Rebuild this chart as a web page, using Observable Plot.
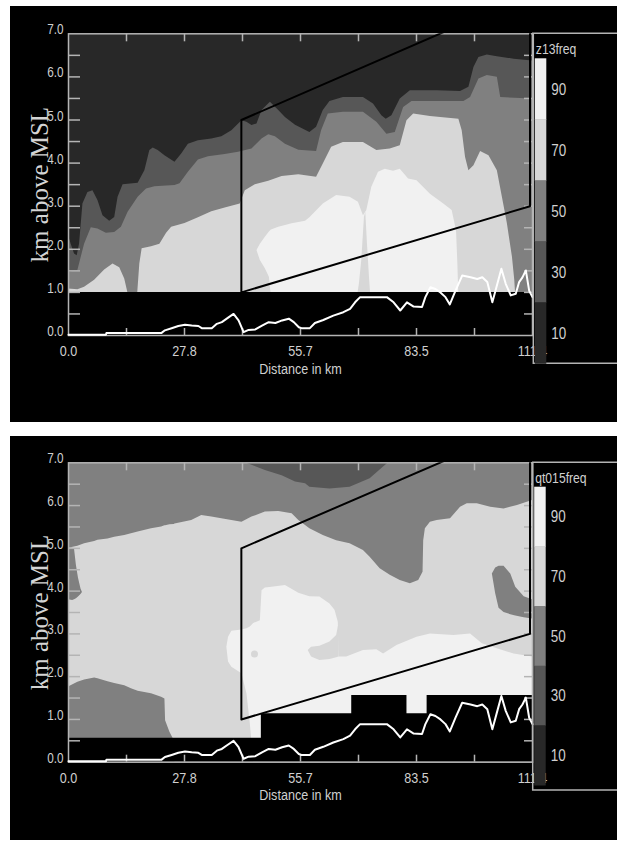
<!DOCTYPE html>
<html><head><meta charset="utf-8">
<script src="https://cdn.jsdelivr.net/npm/d3@7"></script>
<script src="https://cdn.jsdelivr.net/npm/@observablehq/plot@0.6"></script>
<style>
body{margin:0;background:#fff;width:617px;height:844px;position:relative;overflow:hidden}
#p1{position:absolute;left:10px;top:6px}
#p2{position:absolute;left:10px;top:436px}
svg{display:block}
</style></head><body><div id="p1"></div><div id="p2"></div>
<script>
// ---------- axes ----------
const xDomain = [0, 111.4];
const yDomain = [0, 7];
const xTicks = [13.925, 27.85, 41.775, 55.7, 69.625, 83.55, 97.475];
const xLabelValues = [0, 27.85, 55.7, 83.55, 111.4];
const xLabels = ["0.0", "27.8", "55.7", "83.5", "111.4"];
const yTicks = [0.5, 1, 1.5, 2, 2.5, 3, 3.5, 4, 4.5, 5, 5.5, 6, 6.5];
const yLabelValues = [0, 1, 2, 3, 4, 5, 6, 7];
const yLabels = ["0.0", "1.0", "2.0", "3.0", "4.0", "5.0", "6.0", "7.0"];
const xTitle = "Distance in km";
const yTitle = "km above MSL";

// ---------- legend ----------
const levels = [90, 70, 50, 30, 10];
const levelColors = ["#f1f1f1", "#d7d7d7", "#808080", "#575757", "#282828"];
const [c90, c70, c50, c30, c10] = levelColors;

// ---------- terrain (km, km) ----------
const terrain = [[0,0.02],[9.0,0.02],[9.1,0.06],[22.35,0.06],[23.15,0.12],[24.76,0.17],[26.36,0.22],[27.97,0.25],[29.58,0.23],[31.19,0.22],[31.99,0.17],[34.4,0.17],[35.61,0.27],[36.81,0.31],[38.42,0.42],[39.63,0.5],[40.83,0.35],[42.04,0.08],[43.24,0.13],[44.85,0.14],[46.46,0.23],[48.07,0.31],[49.67,0.29],[51.28,0.35],[52.89,0.39],[54.09,0.31],[55.3,0.19],[55.94,0.17],[57.95,0.17],[59.16,0.29],[61.17,0.36],[63.58,0.46],[65.99,0.54],[67.6,0.62],[68.8,0.77],[70.01,0.89],[73.22,0.89],[76.44,0.89],[78.05,0.77],[79.65,0.58],[81.26,0.77],[82.87,0.67],[84.88,0.66],[85.68,0.89],[86.89,1.12],[88.09,1.08],[89.3,1.0],[90.51,0.89],[91.55,0.72],[92.92,1.04],[94.52,1.39],[96.53,1.35],[98.14,1.31],[99.35,1.35],[100.55,1.24],[101.76,0.77],[102.96,1.2],[103.93,1.55],[104.97,1.2],[106.18,0.93],[107.38,0.97],[108.19,1.24],[108.99,1.35],[109.8,1.51],[110.6,1.04],[111.4,0.89]];

// ---------- analysis box ----------
const box = [[41.5,1.0],[41.5,5.0],[110.8,7.91],[110.8,3.0],[41.5,1.0]];

// ---------- top panel: z13freq band tops (x km, height km) ----------
const top20 = [[0,2.32],[0.64,2.12],[1.45,1.89],[2.09,1.85],[2.65,2.12],[3.46,3.05],[4.66,3.32],[5.87,3.36],[7.07,3.13],[8.28,2.78],[9.89,2.65],[11.09,2.74],[11.9,3.21],[13.1,3.5],[16.72,3.53],[18.33,3.82],[19.53,4.29],[20.34,4.35],[21.54,4.29],[23.15,4.17],[25.56,4.02],[27.17,4.21],[28.78,4.44],[31.19,4.52],[34.4,4.56],[36.81,4.61],[39.22,4.75],[41.64,4.98],[42.84,4.95],[44.05,4.87],[45.25,4.91],[46.46,5.22],[48.47,5.41],[50.48,5.22],[52.08,5.06],[54.5,4.88],[57.95,4.71],[59.56,4.83],[61.17,5.22],[62.77,5.43],[65.99,5.52],[70.81,5.52],[73.22,5.37],[75.23,5.1],[76.28,5.02],[77.64,5.1],[79.65,5.49],[82.07,5.68],[88.5,5.68],[94.12,5.66],[96.13,5.76],[97.34,6.22],[98.54,6.45],[100.55,6.51],[102.96,6.47],[106.98,6.41],[111.4,6.37]];
const top40 = [[0,1.47],[2.25,1.51],[3.86,2.12],[5.47,2.5],[7.07,2.47],[9.08,2.37],[11.09,2.39],[12.7,2.51],[14.31,2.86],[16.72,3.21],[18.73,3.4],[20.74,3.45],[25.56,3.48],[26.77,3.52],[28.78,3.79],[31.19,4.07],[33.6,4.15],[37.62,4.2],[40.83,4.25],[44.05,4.33],[46.46,4.56],[48.07,4.66],[49.67,4.61],[52.08,4.44],[55.3,4.3],[59.56,4.27],[60.76,4.75],[62.37,5.14],[65.99,5.18],[70.81,5.18],[74.03,4.95],[76.44,4.67],[78.45,4.71],[80.46,5.29],[82.47,5.43],[94.93,5.43],[96.53,5.52],[98.54,5.95],[100.55,6.03],[102.96,5.99],[103.77,5.52],[111.4,5.49]];
const top60 = [[0,1.08],[2.25,1.06],[3.86,1.12],[6.27,1.28],[8.68,1.52],[10.69,1.66],[12.3,1.57],[13.5,1.31],[14.15,1.04],[14.47,0.9],[16.56,0.9],[17.12,1.66],[17.68,2.01],[19.93,2.06],[21.94,2.12],[23.55,2.37],[24.76,2.51],[27.97,2.6],[31.19,2.73],[34.4,2.87],[37.62,2.96],[41.23,3.05],[42.44,3.36],[44.85,3.5],[48.07,3.58],[51.28,3.69],[55.3,3.73],[59.56,3.67],[61.17,3.98],[63.18,4.37],[65.99,4.48],[70.81,4.48],[74.03,4.29],[77.24,4.33],[79.65,4.4],[81.26,4.98],[82.87,5.14],[86.89,5.08],[93.72,5.02],[94.52,4.75],[95.33,4.13],[96.13,3.82],[97.34,3.94],[98.94,4.27],[100.95,4.17],[102.96,3.82],[104.17,3.21],[105.37,2.59],[106.58,1.82],[107.14,1.28],[107.38,0.9],[111.4,0.9]];
// lightest band: [x, bottom, top]
const top80 = [[45.25,1.97,1.97],[46.06,1.74,2.12],[47.26,1.55,2.28],[48.23,1.35,2.4],[48.71,0.9,2.45],[50.48,0.9,2.51],[53.69,0.9,2.59],[56.91,0.9,2.65],[57.95,0.9,2.73],[61.17,0.9,3.05],[64.38,0.9,3.25],[67.6,0.9,3.21],[69.61,0.9,3.09],[70.81,0.9,2.78],[71.62,0.9,2.9],[72.82,0.9,3.44],[74.43,0.9,3.79],[76.04,0.9,3.86],[78.05,0.9,3.81],[79.65,0.9,3.86],[81.66,0.9,3.63],[83.67,0.9,3.59],[86.89,0.9,3.28],[90.1,0.9,3.05],[92.11,0.9,2.9],[93.16,0.9,2.43],[93.48,0.9,1.66],[93.72,0.9,0.9]];
const topCrack = [[69.37,0.9,0.9],[69.85,0.9,1.2],[70.41,0.9,1.74],[71.05,0.9,2.74],[71.37,0.9,2.86],[71.78,0.9,2.12],[72.26,0.9,1.35],[72.58,0.9,0.9]];
const topMask = [[0,1.0],[111.4,1.0]];

// ---------- bottom panel: qt015freq ----------
const bot30 = [[42.44,7.0],[44.05,6.94],[47.26,6.82],[51.28,6.7],[54.5,6.55],[56.91,6.51],[57.95,6.43],[62.77,6.39],[67.6,6.43],[72.42,6.63],[75.64,6.9],[76.84,7.0]];
const bot70 = [[0,1.76,5.0],[2.25,1.87,5.05],[3.86,1.92,5.11],[6.27,1.97,5.16],[7.07,1.95,5.19],[9.48,1.88,5.22],[11.09,1.84,5.26],[13.5,1.79,5.3],[15.11,1.72,5.34],[16.72,1.66,5.38],[19.93,1.6,5.46],[22.35,1.52,5.5],[23.15,1.48,5.53],[23.31,0.97,5.53],[24.35,0.7,5.55],[25.4,0.5,5.56],[25.56,0,5.57],[29.58,0,5.65],[31.99,0,5.77],[34.4,0,5.73],[36.81,0,5.69],[39.22,0,5.65],[41.64,0,5.61],[44.05,0,5.73],[47.26,0,5.85],[50.48,0,5.86],[53.69,0,5.81],[55.3,0,5.65],[57.95,0,5.46],[61.17,0,5.3],[64.38,0,5.18],[67.6,0,5.11],[70.81,0,4.95],[72.42,0,4.79],[74.83,0,4.52],[77.24,0,4.37],[79.65,0,4.25],[82.07,0,4.17],[84.08,0,4.25],[85.12,0,4.44],[85.28,0,5.18],[85.68,0,5.46],[86.89,0,5.61],[88.5,0,5.65],[91.71,0,5.69],[94.12,0,5.96],[95.73,0,6.04],[98.14,0,6.04],[101.36,0,5.96],[104.57,0,5.92],[107.79,0,6.0],[111.4,0,6.12]];
const bot90 = [[38.02,2.69,2.69],[38.42,2.34,2.92],[39.22,2.22,3.06],[41.64,2.07,3.09],[42.84,1.6,3.12],[43.65,0.9,3.16],[44.45,0,3.24],[46.06,0,3.31],[46.46,0,4.01],[47.26,0,4.07],[48.87,0,4.09],[52.08,0,4.13],[55.3,0,3.95],[57.95,0,3.87],[60.36,0,3.86],[62.77,0,3.7],[63.98,0,3.55],[64.78,0,3.27],[64.94,0,2.46],[66.79,0,2.46],[70.81,0,2.61],[74.03,0,2.63],[75.64,0,2.53],[78.85,0,2.73],[83.67,0,2.92],[86.89,0,3.0],[92.52,0,2.96],[96.53,0,3.0],[99.35,0,2.77],[102.96,0,2.65],[106.98,0,2.53],[111.4,0,2.46]];
const botTongue = [[57.55,2.61,2.61],[58.35,2.46,2.69],[60.36,2.38,2.71],[62.77,2.4,2.81],[64.38,2.44,2.96],[64.94,2.46,3.24]];
const botGrayRight = [[101.76,4.4,4.4],[102.56,3.94,4.54],[103.37,3.6,4.58],[104.57,3.5,4.58],[106.18,3.45,4.4],[107.38,3.42,4.09],[109.4,3.38,3.87],[111.4,3.35,3.8]];
const botGrayLeft = [[0,3.8,5.0],[1.0,3.78,5.0],[1.45,3.8,4.98],[1.9,3.82,4.6],[2.4,3.86,4.3],[3.0,3.92,4.05],[3.35,3.97,3.97]];
const botDot = [[44.65,2.53]];
const botMask = [[0,0.56],[46.3,1.13],[68.0,1.56],[81.26,1.13],[86.1,1.56],[111.4,1.56]];

// ---------- drawing ----------
const W = 607, ML = 58, MR = 85;
const sans = "'Liberation Sans',Arial,sans-serif";
const serif = "'Liberation Serif','Times New Roman',serif";
const squeeze = 0.84; // narrow lettering of the original
const axisColor = "#b4b4b4";
const textColor = "#d0d0d0";
const X = d => d[0], Y = d => d[1], Y1 = d => d[1], Y2 = d => d[2];

function axisMarks(fw, fh) {
  return [
    Plot.frame({stroke: axisColor, strokeWidth: 1.5}),
    Plot.tickY(yTicks, {y: d => d, stroke: axisColor, strokeWidth: 1.5, insetRight: fw - 12}),
    Plot.tickY(yTicks, {y: d => d, stroke: axisColor, strokeWidth: 1.5, insetLeft: fw - 8}),
    Plot.tickX(xTicks, {x: d => d, stroke: axisColor, strokeWidth: 1.5, insetBottom: fh - 8}),
    Plot.tickX(xTicks, {x: d => d, stroke: axisColor, strokeWidth: 1.5, insetTop: fh - 7}),
    Plot.text(yLabelValues, {y: d => d, text: (d, i) => yLabels[i], frameAnchor: "left", textAnchor: "end", lineAnchor: "bottom", dx: -5, dy: 0.5, fill: textColor, fontSize: 14, fontFamily: sans}),
    Plot.text(xLabelValues, {x: d => d, text: (d, i) => xLabels[i], frameAnchor: "bottom", textAnchor: "middle", lineAnchor: "bottom", dy: 20.5, fill: textColor, fontSize: 15, fontFamily: sans}),
    Plot.text([xTitle], {text: d => d, frameAnchor: "bottom", textAnchor: "middle", lineAnchor: "bottom", dy: 38, fill: textColor, fontSize: 15, fontFamily: sans}),
    Plot.text([yTitle], {text: d => d, frameAnchor: "left", textAnchor: "middle", rotate: -90, lineAnchor: "bottom", dx: -21, fill: "#d4d4d4", fontSize: 25, fontFamily: serif, letterSpacing: 1.2})
  ];
}

function panel(el, {height, mt, mb, marks, lines, title, legend}) {
  const fw = W - ML - MR, fh = height - mt - mb;
  const svg = Plot.plot({
    width: W, height, marginLeft: ML, marginRight: MR, marginTop: mt, marginBottom: mb,
    x: {domain: xDomain, axis: null},
    y: {domain: yDomain, axis: null},
    style: {background: "#000", overflow: "visible"},
    marks: [...marks, ...axisMarks(fw, fh), ...lines]
  });
  const s = d3.select(svg);
  // narrow sans lettering: squeeze each non-rotated label about its anchor
  s.selectAll("text").each(function() {
    const t = this.getAttribute("transform") || "";
    if (!t.includes("rotate")) this.setAttribute("transform", `${t} scale(${squeeze},1)`);
  });
  const g = s.append("g").attr("text-anchor", "start");
  const fr = W - MR;
  g.append("path").attr("fill", "none").attr("stroke", axisColor).attr("stroke-width", 1.5)
    .attr("d", `M${fr},${mt}H${W}M${legend.vx},${mt}V${legend.bottom}H${W}`);
  const band = d3.scaleBand(levels, [legend.top, legend.barBottom]);
  g.selectAll("rect").data(levels).join("rect")
    .attr("x", legend.vx + 1.5).attr("width", 11.5)
    .attr("y", d => band(d)).attr("height", band.bandwidth() + 0.5)
    .attr("fill", (d, i) => levelColors[i]);
  g.selectAll("text.lv").data(levels).join("text").attr("class", "lv")
    .attr("transform", d => `translate(${legend.vx + 18},${band(d) + band.bandwidth() / 2}) scale(${squeeze},1)`)
    .attr("dy", "0.36em").attr("fill", textColor)
    .style("font", `16px ${sans}`).text(d => d);
  g.append("text")
    .attr("transform", `translate(${legend.vx + 2.5},${legend.titleY}) scale(${squeeze},1)`)
    .attr("fill", textColor).style("font", `14.5px ${sans}`).text(title);
  document.getElementById(el).appendChild(svg);
}

panel("p1", {
  height: 416, mt: 27.3, mb: 87, title: "z13freq",
  legend: {vx: 523.3, top: 52.3, barBottom: 357.3, bottom: 357.3, titleY: 48},
  marks: [
    Plot.frame({fill: c10}),
    Plot.areaY(top20, {x: X, y1: 0, y2: Y, fill: c30}),
    Plot.areaY(top40, {x: X, y1: 0, y2: Y, fill: c50}),
    Plot.areaY(top60, {x: X, y1: 0, y2: Y, fill: c70}),
    Plot.areaY(top80, {x: X, y1: Y1, y2: Y2, fill: c90}),
    Plot.areaY(topCrack, {x: X, y1: Y1, y2: Y2, fill: c70}),
    Plot.areaY(topMask, {x: X, y1: 0, y2: Y, fill: "#000"})
  ],
  lines: [
    Plot.line(terrain, {x: X, y: Y, stroke: "#fff", strokeWidth: 2}),
    Plot.line(box, {x: X, y: Y, stroke: "#000", strokeWidth: 2, clip: true})
  ]
});

panel("p2", {
  height: 404, mt: 26.3, mb: 78.3, title: "qt015freq",
  legend: {vx: 522.7, top: 50.7, barBottom: 349, bottom: 354, titleY: 47},
  marks: [
    Plot.frame({fill: c50}),
    Plot.areaY(bot30, {x: X, y1: Y, y2: 7, fill: c30}),
    Plot.areaY(bot70, {x: X, y1: Y1, y2: Y2, fill: c70}),
    Plot.areaY(bot90, {x: X, y1: Y1, y2: Y2, fill: c90}),
    Plot.areaY(botTongue, {x: X, y1: Y1, y2: Y2, fill: c70}),
    Plot.dot(botDot, {x: X, y: Y, r: 3.5, fill: c70}),
    Plot.areaY(botGrayRight, {x: X, y1: Y1, y2: Y2, fill: c50}),
    Plot.areaY(botGrayLeft, {x: X, y1: Y1, y2: Y2, fill: c50}),
    Plot.areaY(botMask, {x: X, y1: 0, y2: Y, fill: "#000", curve: "step-after"})
  ],
  lines: [
    Plot.line(terrain, {x: X, y: Y, stroke: "#fff", strokeWidth: 2}),
    Plot.line(box, {x: X, y: Y, stroke: "#000", strokeWidth: 2, clip: true})
  ]
});
</script></body></html>
